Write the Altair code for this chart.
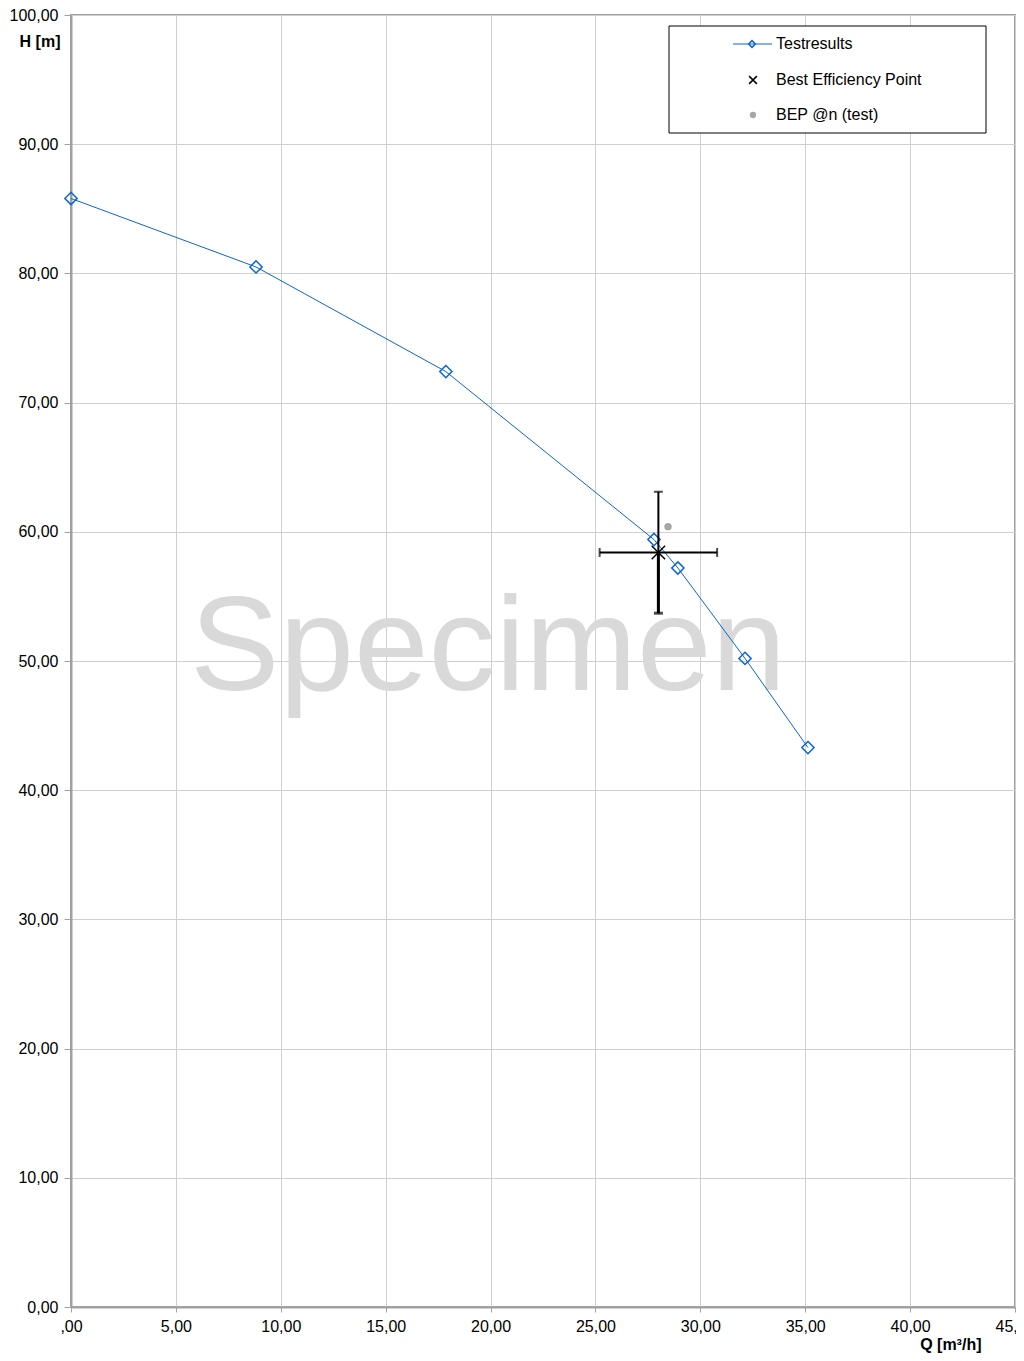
import altair as alt
import pandas as pd

# Test results (Q [m³/h], H [m])
q_test = [0.0, 8.82, 17.87, 27.79, 28.93, 32.13, 35.13]
h_test = [85.8, 80.5, 72.4, 59.4, 57.2, 50.2, 43.3]

# Best efficiency point with tolerance
bep_q = [28.0]
bep_h = [58.4]
bep_q_low = [25.2]
bep_q_high = [30.8]
bep_h_low = [53.7]
bep_h_high = [63.1]

# BEP @n (test)
bepn_q = [28.46]
bepn_h = [60.4]

legend_labels = ["Testresults", "Best Efficiency Point", "BEP @n (test)"]

x_ticks = [0, 5, 10, 15, 20, 25, 30, 35, 40, 45]
y_ticks = [0, 10, 20, 30, 40, 50, 60, 70, 80, 90, 100]

BLUE = "#0a64d2"
FONT = "Liberation Sans"

df_test = pd.DataFrame({"Q": q_test, "H": h_test})
df_bep = pd.DataFrame({"Q": bep_q, "H": bep_h, "Qlo": bep_q_low, "Qhi": bep_q_high,
                       "Hlo": bep_h_low, "Hhi": bep_h_high})
df_bepn = pd.DataFrame({"Q": bepn_q, "H": bepn_h})

x_scale = alt.Scale(domain=[0, 45], nice=False, zero=False)
y_scale = alt.Scale(domain=[0, 100], nice=False, zero=False)

fmt = "replace(format(datum.value, '.2f'), '.', ',')"
x_axis = alt.Axis(values=x_ticks, labelExpr="datum.value == 0 ? ',00' : " + fmt,
                  labelFlush=False, labelOverlap=False,
                  title="Q [m³/h]", titleAngle=0, titleAlign="right", titleBaseline="middle",
                  titleX=910, titleY=37, titleFontWeight="bold", titleFontSize=16,
                  labelFontSize=16, labelPadding=6, tickSize=5, tickColor="#a0a0a0",
                  domainColor="#a0a0a0", domainWidth=2, gridColor="#cfcfcf", labelColor="#000")
y_axis = alt.Axis(values=y_ticks, labelExpr=fmt,
                  labelFlush=False, labelOverlap=False,
                  title="H [m]", titleAngle=0, titleAlign="right", titleBaseline="middle",
                  titleX=-11, titleY=26, titleFontWeight="bold", titleFontSize=16,
                  labelFontSize=16, labelPadding=6, tickSize=7, tickColor="#a0a0a0",
                  domainColor="#a0a0a0", domainWidth=2, gridColor="#cfcfcf", labelColor="#000")

base = alt.Chart(df_test)

# axes holder (invisible)
axes = base.mark_point(opacity=0).encode(
    x=alt.X("Q:Q", scale=x_scale, axis=x_axis),
    y=alt.Y("H:Q", scale=y_scale, axis=y_axis),
)

watermark = alt.Chart(pd.DataFrame({"t": ["Specimen"]})).mark_text(
    fontSize=134, font=FONT, color="#d9d9d9", align="center", baseline="alphabetic"
).encode(text="t:N", x=alt.value(417), y=alt.value(675))

line = base.mark_line(color=BLUE, strokeWidth=1).encode(
    x=alt.X("Q:Q", scale=x_scale), y=alt.Y("H:Q", scale=y_scale))
pts = base.mark_point(shape="diamond", filled=False, color=BLUE, size=150, strokeWidth=1.5, opacity=1).encode(
    x=alt.X("Q:Q", scale=x_scale), y=alt.Y("H:Q", scale=y_scale))

bep = alt.Chart(df_bep)
v_rule = bep.mark_rule(color="black", strokeWidth=2).encode(
    x=alt.X("Q:Q", scale=x_scale), y=alt.Y("Hlo:Q", scale=y_scale), y2="Hhi:Q")
v_rule_lo = bep.mark_rule(color="black", strokeWidth=3).encode(
    x=alt.X("Q:Q", scale=x_scale), y=alt.Y("Hlo:Q", scale=y_scale), y2="H:Q")
h_rule = bep.mark_rule(color="black", strokeWidth=2).encode(
    y=alt.Y("H:Q", scale=y_scale), x=alt.X("Qlo:Q", scale=x_scale), x2="Qhi:Q")
cap_top = bep.mark_tick(color="black", thickness=2, size=9, orient="horizontal").encode(
    x=alt.X("Q:Q", scale=x_scale), y=alt.Y("Hhi:Q", scale=y_scale))
cap_bot = bep.mark_tick(color="black", thickness=3, size=9, orient="horizontal").encode(
    x=alt.X("Q:Q", scale=x_scale), y=alt.Y("Hlo:Q", scale=y_scale))
cap_l = bep.mark_tick(color="black", thickness=2, size=9, orient="vertical").encode(
    x=alt.X("Qlo:Q", scale=x_scale), y=alt.Y("H:Q", scale=y_scale))
cap_r = bep.mark_tick(color="black", thickness=2, size=9, orient="vertical").encode(
    x=alt.X("Qhi:Q", scale=x_scale), y=alt.Y("H:Q", scale=y_scale))
XSHAPE = "M-1,-1L1,1M1,-1L-1,1"
bep_x = bep.mark_point(shape=XSHAPE, filled=False, color="black", size=180, strokeWidth=1.5, opacity=1).encode(
    x=alt.X("Q:Q", scale=x_scale), y=alt.Y("H:Q", scale=y_scale))

bepn = alt.Chart(df_bepn).mark_circle(color="#a6a6a6", size=55, opacity=1).encode(
    x=alt.X("Q:Q", scale=x_scale), y=alt.Y("H:Q", scale=y_scale))

# Legend box
one = pd.DataFrame({"a": [0]})
leg_box = alt.Chart(one).mark_rect(
    fill="white", stroke="black", strokeWidth=1).encode(
    x=alt.value(598), x2=alt.value(915), y=alt.value(11), y2=alt.value(118))
leg_line = alt.Chart(one).mark_rule(color=BLUE, strokeWidth=1).encode(
    x=alt.value(662), x2=alt.value(701), y=alt.value(29))
leg_d = alt.Chart(one).mark_point(
    shape="diamond", filled=False, color=BLUE, size=45, strokeWidth=1.5, opacity=1).encode(
    x=alt.value(681), y=alt.value(29))
leg_x = alt.Chart(one).mark_point(
    shape=XSHAPE, filled=False, color="black", size=60, strokeWidth=1.5, opacity=1).encode(
    x=alt.value(682), y=alt.value(65))
leg_c = alt.Chart(one).mark_circle(color="#a6a6a6", size=40, opacity=1).encode(
    x=alt.value(682), y=alt.value(100))

def leg_text(label, ypix):
    return alt.Chart(pd.DataFrame({"label": [label]})).mark_text(
        align="left", baseline="middle", fontSize=16, font=FONT, color="black").encode(
        text="label:N", x=alt.value(705), y=alt.value(ypix))

leg_t1 = leg_text(legend_labels[0], 29)
leg_t2 = leg_text(legend_labels[1], 65)
leg_t3 = leg_text(legend_labels[2], 100)

chart = alt.layer(
    axes, watermark, line, pts,
    v_rule, v_rule_lo, h_rule, cap_top, cap_bot, cap_l, cap_r, bep_x, bepn,
    leg_box, leg_line, leg_d, leg_x, leg_c, leg_t1, leg_t2, leg_t3,
).properties(
    width=944, height=1292,
    autosize=alt.AutoSizeParams(type="none"),
    padding={"left": 63, "top": 7, "right": 1, "bottom": 46},
    background="white",
).configure_view(
    stroke="#a0a0a0", strokeWidth=2
).configure_axis(
    labelFont=FONT, titleFont=FONT, titleColor="#000"
)

chart.save("out.html", embed_options={"renderer": "svg", "actions": False})
